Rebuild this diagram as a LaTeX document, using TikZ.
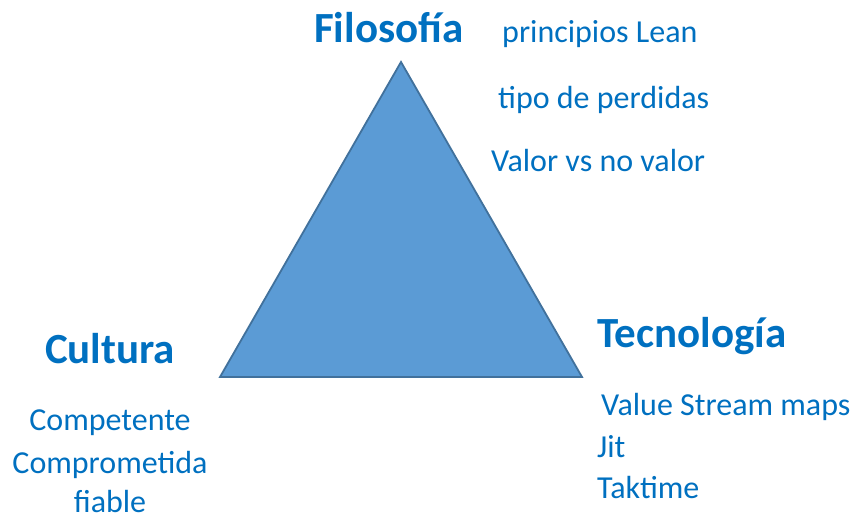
\documentclass[tikz,border=0pt]{standalone}
\usepackage{fontspec}
\setmainfont{Carlito}
\definecolor{textblue}{HTML}{0070C0}
\definecolor{trifill}{HTML}{5B9BD5}
\definecolor{triline}{HTML}{41719C}
\tikzset{
  titulo/.style={text=textblue, font=\fontsize{43}{50}\selectfont\bfseries, inner sep=0pt},
  item/.style={text=textblue, font=\fontsize{32}{38}\selectfont, inner sep=0pt},
}
\begin{document}
\begin{tikzpicture}[x=1pt,y=1pt]

  \useasboundingbox (0,0) rectangle (856,517);

  \draw[triline, line width=1.8pt, fill=trifill, line join=miter]
    (401,455) coordinate (vert) -- (582,140) coordinate (der) -- (220,140) coordinate (izq) -- cycle;

  \node[titulo, anchor=base west] (filo) at (314,474) {Filosofía};
  \node[item, anchor=base west] (p1) at (502,474) {principios Lean};
  \node[item, anchor=base west] (p2) at (498,408) {tipo de perdidas};
  \node[item, anchor=base west] (p3) at (491,345) {Valor vs no valor};

  \node[titulo, anchor=base] (cult) at (110,154) {Cultura};
  \node[item, anchor=base] (c1) at (110,87) {Competente};
  \node[item, anchor=base] (c2) at (110,44) {Comprometida};
  \node[item, anchor=base] (c3) at (110,5) {fiable};

  \node[titulo, anchor=base west] (tec) at (597,170) {Tecnología};
  \node[item, anchor=base west] (t1) at (601,102) {Value Stream maps};
  \node[item, anchor=base west] (t2) at (597,60) {Jit};
  \node[item, anchor=base west] (t3) at (597,19) {Taktime};

\end{tikzpicture}
\end{document}
